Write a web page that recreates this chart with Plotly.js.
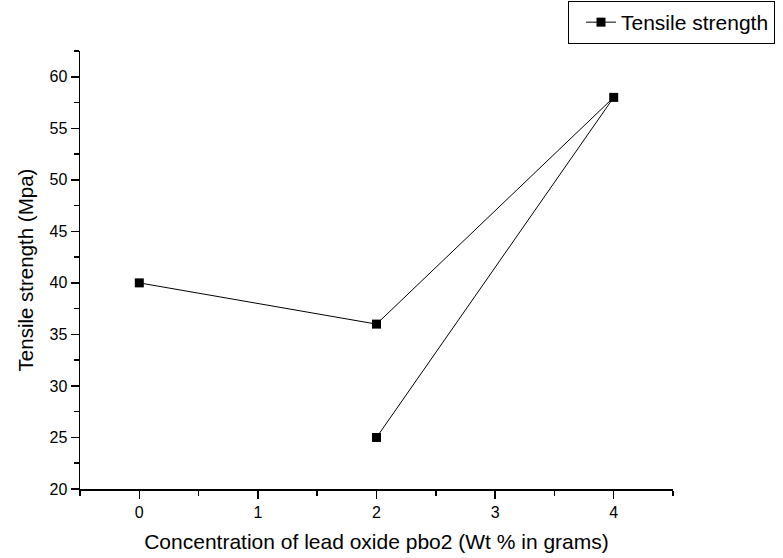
<!DOCTYPE html>
<html>
<head>
<meta charset="utf-8">
<script src="https://cdn.plot.ly/plotly-3.0.1.min.js"></script>
<style>html,body{margin:0;padding:0;background:#fff;}#chart{width:783px;height:558px;}</style>
</head>
<body>
<div id="chart"></div>
<script>
const concentration = [0, 2, 4, 2];
const tensileStrength = [40, 36, 58, 25];
const seriesName = "Tensile strength";
const xTitle = "Concentration of lead oxide pbo2 (Wt % in grams)";
const yTitle = "Tensile strength (Mpa)";

const FONT = "Liberation Sans, Arial, sans-serif";

const trace = {
  x: concentration,
  y: tensileStrength,
  name: seriesName,
  type: "scatter",
  mode: "lines+markers",
  line: {color: "#000", width: 1},
  marker: {symbol: "square", size: 9, color: "#000"},
  showlegend: true
};

const axisBase = {
  showline: true, linecolor: "#000", linewidth: 1.5,
  ticks: "outside", ticklen: 8, tickwidth: 1.5, tickcolor: "#000",
  showgrid: false, zeroline: false, mirror: false, automargin: false,
  tickfont: {family: FONT, size: 16, color: "#000"}
};

const layout = {
  width: 783, height: 558,
  margin: {l: 80, r: 110, t: 51, b: 69, autoexpand: false},
  paper_bgcolor: "#fff", plot_bgcolor: "#fff",
  font: {family: FONT, color: "#000"},
  xaxis: Object.assign({}, axisBase, {
    range: [-0.5, 4.5], tick0: 0, dtick: 1,
    minor: {ticks: "outside", ticklen: 5, tickwidth: 1.5, tickcolor: "#000", dtick: 0.5, tick0: 0.5},
    title: {text: xTitle, font: {family: FONT, size: 21, color: "#000"}, standoff: 14}
  }),
  yaxis: Object.assign({}, axisBase, {
    range: [20, 62.5], tick0: 20, dtick: 5,
    minor: {ticks: "outside", ticklen: 5, tickwidth: 1.5, tickcolor: "#000", dtick: 2.5, tick0: 22.5},
    title: {text: yTitle, font: {family: FONT, size: 20.5, color: "#000"}, standoff: 10}
  }),
  showlegend: true,
  legend: {
    xref: "container", yref: "container",
    x: 568 / 783, y: 1 - 1 / 558, xanchor: "left", yanchor: "top",
    bordercolor: "#000", borderwidth: 1, bgcolor: "#fff",
    font: {family: FONT, size: 21, color: "#000"},
    itemwidth: 30, tracegroupgap: 0, indentation: 12
  }
};

Plotly.newPlot("chart", [trace], layout, {displayModeBar: false, staticPlot: true});
</script>
</body>
</html>
